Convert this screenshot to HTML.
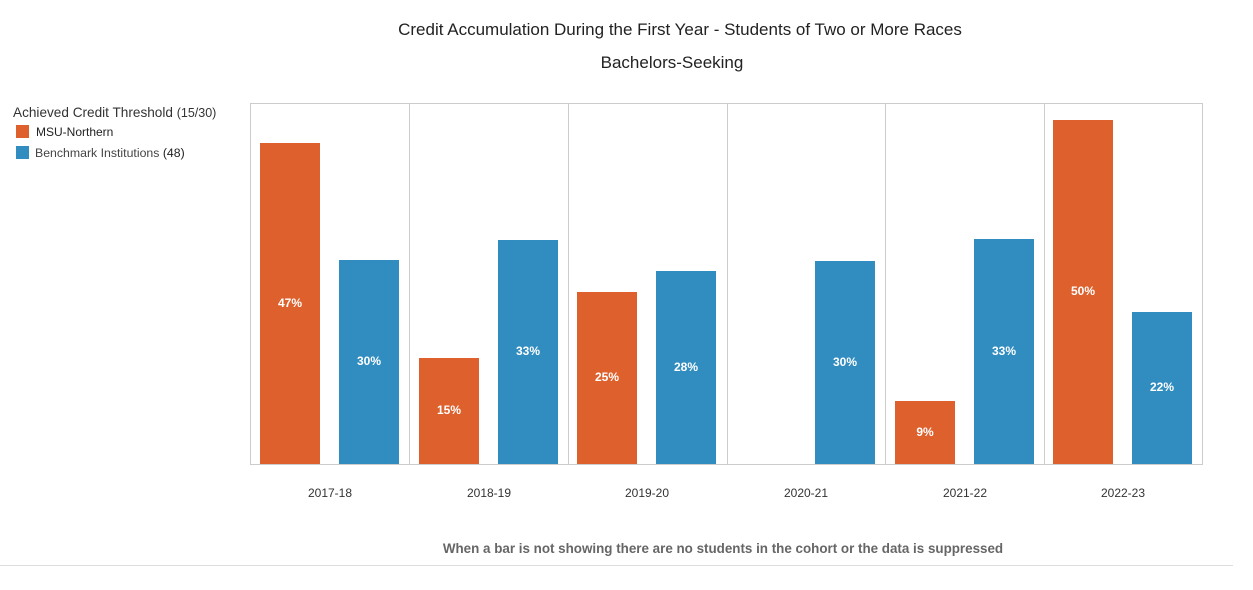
<!DOCTYPE html>
<html><head><style>body{margin:0;background:#fff;}svg{display:block;font-family:"Liberation Sans",sans-serif;}</style></head>
<body>
<svg width="1253" height="590" xmlns="http://www.w3.org/2000/svg">
<text x="680" y="35" text-anchor="middle" font-size="17" fill="#222">Credit Accumulation During the First Year - Students of Two or More Races</text>
<text x="672" y="68" text-anchor="middle" font-size="17" fill="#222">Bachelors-Seeking</text>
<text x="13" y="117" font-size="13.6" fill="#333">Achieved Credit Threshold <tspan font-size="12.5">(15/30)</tspan></text>
<rect x="16" y="125" width="13" height="13" fill="#DD602D"/>
<text x="36" y="136" font-size="12" fill="#222">MSU-Northern</text>
<rect x="16" y="146" width="13" height="13" fill="#318CC0"/>
<text x="35" y="157" font-size="12.3" fill="#444">Benchmark Institutions <tspan fill="#222">(48)</tspan></text>
<rect x="250.5" y="103.5" width="952" height="361" fill="none" stroke="#ccc"/>
<g stroke="#ccc"><line x1="409.5" y1="103" x2="409.5" y2="464"/><line x1="568.5" y1="103" x2="568.5" y2="464"/><line x1="727.5" y1="103" x2="727.5" y2="464"/><line x1="885.5" y1="103" x2="885.5" y2="464"/><line x1="1044.5" y1="103" x2="1044.5" y2="464"/></g>
<g fill="#DD602D"><rect x="260" y="143" width="60" height="321"/><rect x="419" y="358" width="60" height="106"/><rect x="577" y="292" width="60" height="172"/><rect x="895" y="401" width="60" height="63"/><rect x="1053" y="120" width="60" height="344"/></g>
<g fill="#318CC0"><rect x="339" y="260" width="60" height="204"/><rect x="498" y="240" width="60" height="224"/><rect x="656" y="271" width="60" height="193"/><rect x="815" y="261" width="60" height="203"/><rect x="974" y="239" width="60" height="225"/><rect x="1132" y="312" width="60" height="152"/></g>
<g fill="#fff" font-size="12" font-weight="bold" text-anchor="middle">
<text x="290" y="307">47%</text><text x="369" y="365">30%</text>
<text x="449" y="414">15%</text><text x="528" y="355">33%</text>
<text x="607" y="381">25%</text><text x="686" y="371">28%</text>
<text x="845" y="366">30%</text>
<text x="925" y="436">9%</text><text x="1004" y="355">33%</text>
<text x="1083" y="295">50%</text><text x="1162" y="391">22%</text>
</g>
<g fill="#333" font-size="12" text-anchor="middle">
<text x="330" y="497">2017-18</text><text x="489" y="497">2018-19</text><text x="647" y="497">2019-20</text><text x="806" y="497">2020-21</text><text x="965" y="497">2021-22</text><text x="1123" y="497">2022-23</text>
</g>
<text x="723" y="553" text-anchor="middle" font-size="13.4" font-weight="bold" fill="#666">When a bar is not showing there are no students in the cohort or the data is suppressed</text>
<line x1="0" y1="565.5" x2="1233" y2="565.5" stroke="#ddd"/>
</svg>
</body></html>
